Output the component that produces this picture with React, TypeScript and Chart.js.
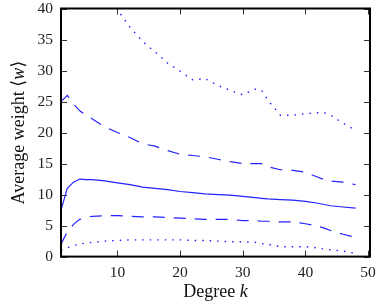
import React, { useEffect, useRef } from 'react';
import { Chart, registerables } from 'chart.js';

Chart.register(...registerables);

// Degree k values at which the curves were read
const K = [1, 2, 3, 4, 5, 6, 8, 10, 12, 14, 16, 18, 20, 22, 24, 26, 28, 30, 32, 33, 34, 36, 38, 40, 42, 43, 44, 46, 48];

const MEAN = [7.5, 11.0, 12.0, 12.5, 12.4, 12.4, 12.2, 11.9, 11.6, 11.2, 11.0, 10.8, 10.5, 10.3, 10.1, 10.0, 9.9, 9.7, 9.5, 9.4, 9.3, 9.2, 9.1, 8.9, 8.6, 8.4, 8.2, 8.0, 7.8];
const UPPER_DASHED = [25.0, 26.0, 24.6, 23.5, 22.8, 22.2, 20.9, 20.0, 19.2, 18.2, 17.8, 17.1, 16.5, 16.3, 16.1, 15.7, 15.3, 15.0, 15.0, 15.0, 14.5, 14.0, 13.9, 13.6, 12.8, 12.4, 12.2, 12.0, 11.6];
const LOWER_DASHED = [2.0, 4.0, 5.2, 6.0, 6.3, 6.5, 6.6, 6.6, 6.5, 6.4, 6.4, 6.3, 6.2, 6.1, 6.0, 6.0, 6.0, 5.8, 5.8, 5.7, 5.7, 5.6, 5.6, 5.3, 4.9, 4.6, 4.2, 3.6, 3.1];
const UPPER_DOTTED = [70, 64, 59, 55, 51, 48, 42.8, 39.8, 37.0, 34.7, 33.0, 31.2, 29.9, 28.5, 28.7, 27.6, 26.8, 26.1, 27.0, 26.8, 25.2, 22.8, 22.8, 23.0, 23.2, 23.2, 22.8, 21.5, 20.4];
const LOWER_DOTTED = [1.0, 1.4, 1.8, 2.0, 2.2, 2.3, 2.5, 2.6, 2.7, 2.7, 2.7, 2.7, 2.7, 2.6, 2.6, 2.5, 2.4, 2.4, 2.3, 2.1, 2.0, 1.6, 1.6, 1.6, 1.4, 1.2, 1.1, 0.9, 0.5];

const X_TICKS = [10, 20, 30, 40, 50];
const Y_TICKS = [0, 5, 10, 15, 20, 25, 30, 35, 40];

const X_TITLE: [string, boolean][] = [['Degree ', false], ['k', true]];
const Y_TITLE: [string, boolean][] = [['Average weight \u27E8', false], ['w', true], ['\u27E9', false]];

const BLUE = '#2323ff';
const SERIF = "'Liberation Serif', 'DejaVu Serif', serif";

function drawMixed(ctx: CanvasRenderingContext2D, parts: [string, boolean][], cx: number, by: number, size: number) {
  const fonts = parts.map(([, it]) => `${it ? 'italic ' : ''}${size}px ${SERIF}`);
  const widths = parts.map(([t], i) => {
    ctx.font = fonts[i];
    return ctx.measureText(t).width;
  });
  const total = widths.reduce((a, b) => a + b, 0);
  let x = cx - total / 2;
  ctx.textAlign = 'left';
  ctx.textBaseline = 'alphabetic';
  parts.forEach(([t], i) => {
    ctx.font = fonts[i];
    ctx.fillText(t, x, by);
    x += widths[i];
  });
}

const framePlugin = {
  id: 'frame',
  afterDraw(chart: any) {
    const { ctx, chartArea: a, scales } = chart;
    const xs = scales.x;
    const ys = scales.y;
    ctx.save();
    const L = 6;
    ctx.strokeStyle = '#333';
    ctx.lineWidth = 1;
    ctx.beginPath();
    X_TICKS.forEach((v) => {
      const px = Math.round(xs.getPixelForValue(v)) + 0.5;
      ctx.moveTo(px, a.bottom);
      ctx.lineTo(px, a.bottom - L);
      ctx.moveTo(px, a.top);
      ctx.lineTo(px, a.top + L);
    });
    Y_TICKS.forEach((v) => {
      const py = Math.round(ys.getPixelForValue(v)) + 0.5;
      ctx.moveTo(a.left, py);
      ctx.lineTo(a.left + L, py);
      ctx.moveTo(a.right, py);
      ctx.lineTo(a.right - L, py);
    });
    ctx.stroke();
    ctx.strokeStyle = '#000';
    ctx.lineWidth = 2;
    ctx.strokeRect(a.left, a.top, a.right - a.left, a.bottom - a.top);

    ctx.fillStyle = '#111';
    drawMixed(ctx, X_TITLE, (a.left + a.right) / 2, a.bottom + 40, 18);
    ctx.translate(a.left - 37.5, (a.top + a.bottom) / 2);
    ctx.rotate(-Math.PI / 2);
    drawMixed(ctx, Y_TITLE, 0, 0, 18);
    ctx.restore();
  },
};

function series(vals: number[]) {
  return K.map((k, i) => ({ x: k, y: vals[i] }));
}

export default function App() {
  const ref = useRef<HTMLCanvasElement | null>(null);
  useEffect(() => {
    if (!ref.current) return;
    const mk = (label: string, vals: number[], dash: number[], width: number) => ({
      label,
      data: series(vals),
      borderColor: BLUE,
      backgroundColor: BLUE,
      borderWidth: width,
      borderDash: dash,
      borderCapStyle: 'butt' as const,
      pointRadius: 0,
      tension: 0,
      fill: false,
    });
    const chart = new Chart(ref.current, {
      type: 'line',
      data: {
        datasets: [
          mk('upper dotted', UPPER_DOTTED, [1.5, 6], 1.4),
          mk('upper dashed', UPPER_DASHED, [12, 9], 1.2),
          mk('mean', MEAN, [], 1.2),
          mk('lower dashed', LOWER_DASHED, [12, 9], 1.2),
          mk('lower dotted', LOWER_DOTTED, [1.5, 6], 1.4),
        ],
      },
      options: {
        animation: false,
        responsive: true,
        maintainAspectRatio: false,
        layout: { padding: { top: 8.5, right: 12, left: 0, bottom: 0 } },
        plugins: { legend: { display: false }, tooltip: { enabled: false } },
        scales: {
          x: {
            type: 'linear',
            min: 1,
            max: 50.3,
            grid: { display: false, drawTicks: false },
            border: { display: false },
            afterBuildTicks: (s: any) => {
              s.ticks = X_TICKS.map((v) => ({ value: v }));
            },
            afterFit: (s: any) => {
              s.height = 49.4;
              s.paddingLeft = 0;
              s.paddingRight = 0;
            },
            ticks: {
              padding: 7,
              color: '#222',
              font: { family: SERIF, size: 15.5 },
              maxRotation: 0,
            },
          },
          y: {
            type: 'linear',
            min: 0,
            max: 40,
            grid: { display: false, drawTicks: false },
            border: { display: false },
            afterBuildTicks: (s: any) => {
              s.ticks = Y_TICKS.map((v) => ({ value: v }));
            },
            afterFit: (s: any) => {
              s.width = 61;
              s.paddingTop = 0;
              s.paddingBottom = 0;
            },
            ticks: {
              padding: 8,
              color: '#222',
              font: { family: SERIF, size: 15.5 },
            },
          },
        },
      },
      plugins: [framePlugin],
    });
    return () => chart.destroy();
  }, []);
  return (
    <div style={{ position: 'fixed', left: 0, top: 0, width: 382, height: 306, background: '#fff' }}>
      <canvas ref={ref} />
    </div>
  );
}
